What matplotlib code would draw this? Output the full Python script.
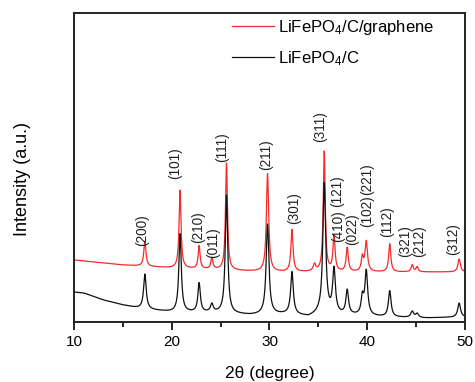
import numpy as np
import matplotlib
matplotlib.use("Agg")
import matplotlib.pyplot as plt

plt.rcParams['font.family'] = ['Liberation Sans', 'DejaVu Sans']
plt.rcParams['mathtext.fontset'] = 'custom'
plt.rcParams['mathtext.rm'] = 'Liberation Sans'
plt.rcParams['mathtext.it'] = 'Liberation Sans:italic'

# baseline anchors (2theta, intensity a.u.)
red_base_x = [10, 12, 15, 20, 25, 30, 40, 50]
red_base_y = [62, 60, 57, 54, 52, 50, 50, 50]
blk_base_x = [10, 11, 13, 15, 17, 20, 25, 28, 32, 34, 35, 38, 42, 46, 50]
blk_base_y = [30, 29, 22, 17, 13, 10, 9, 7, 8, 5, 8, 7, 5, 4, 5]

# peaks: position, height above baseline, FWHM
red_pos = [17.25, 20.85, 22.8, 24.1, 25.6, 29.8, 32.3, 34.6, 35.6, 36.6,
           37.95, 39.5, 39.9, 42.3, 44.6, 45.1, 49.4]
red_h = [25, 78, 23, 11, 107, 98, 42, 7, 120, 35, 24, 14, 30, 28, 7, 5, 13]
red_w = [0.26, 0.24, 0.24, 0.26, 0.24, 0.28, 0.26, 0.3, 0.24, 0.26,
         0.26, 0.26, 0.3, 0.26, 0.26, 0.26, 0.3]

blk_pos = [17.25, 20.85, 22.8, 24.1, 25.6, 29.8, 32.3, 35.6, 36.6,
           37.95, 39.5, 39.9, 42.3, 44.6, 45.1, 49.4]
blk_h = [35, 78, 29, 8, 118, 90, 42, 130, 44, 24, 17, 44, 26, 6, 4, 14]
blk_w = [0.32, 0.3, 0.3, 0.34, 0.3, 0.34, 0.32, 0.34, 0.34,
         0.32, 0.3, 0.34, 0.32, 0.34, 0.34, 0.34]

# (hkl) labels: text, 2theta, intensity at label bottom
hkl_text = ['(200)', '(101)', '(210)', '(011)', '(111)', '(211)', '(301)', '(311)',
            '(121)', '(410)', '(022)', '(102)', '(221)', '(112)', '(321)', '(212)', '(312)']
hkl_x = [16.96, 20.33, 22.69, 24.22, 25.14, 29.64, 32.51, 35.17,
         36.9, 37.0, 38.44, 39.97, 39.97, 42.02, 43.9, 45.35, 48.77]
hkl_y = [76, 143, 79, 64, 160, 152, 98, 180,
         115, 80, 77, 95, 127, 85, 65, 65, 67]

tt = np.linspace(10, 50, 4001)


def pattern(bx, by, pos, h, w):
    y = np.interp(tt, bx, by)
    for p, a, fw in zip(pos, h, w):
        g = (fw / 2) ** 2 / ((tt - p) ** 2 + (fw / 2) ** 2)
        y = y + a * g
    return y


red = pattern(red_base_x, red_base_y, red_pos, red_h, red_w)
blk = pattern(blk_base_x, blk_base_y, blk_pos, blk_h, blk_w)

fig = plt.figure(figsize=(4.75, 3.82), dpi=100)
ax = fig.add_axes([74 / 475, 1 - 322 / 382, 391 / 475, 309 / 382])

ax.plot(tt, red, color='#f52a2a', lw=0.9, label='LiFePO$_4$/C/graphene')
ax.plot(tt, blk, color='#111111', lw=0.9, label='LiFePO$_4$/C')

for s, x, y in zip(hkl_text, hkl_x, hkl_y):
    ax.text(x, y, s, rotation=90, ha='center', va='bottom', fontsize=9.8, color='#222222')

ax.set_xlim(10, 50)
ax.set_ylim(0, 309)
ax.set_xticks([10, 20, 30, 40, 50])
ax.set_xticks([15, 25, 35, 45], minor=True)
ax.set_yticks([])
ax.tick_params(axis='x', which='major', length=6, width=1.2, labelsize=11, direction='out')
ax.tick_params(axis='x', which='minor', length=3.5, width=1.2, direction='out')
for sp in ax.spines.values():
    sp.set_linewidth(1.4)
    sp.set_color('#222222')

ax.set_xlabel('2θ (degree)', fontsize=12.5, labelpad=12)
fig.text(23 / 475, 1 - 179 / 382, 'Intensity (a.u.)', rotation=90,
         ha='center', va='center', fontsize=13)

ax.legend(loc='upper left', bbox_to_anchor=((232 - 74) / 391, 0.985), frameon=False,
          fontsize=12, handlelength=2.5, handletextpad=0.25, labelspacing=0.75,
          borderpad=0, borderaxespad=0)

fig.savefig('out.png', dpi=100)
